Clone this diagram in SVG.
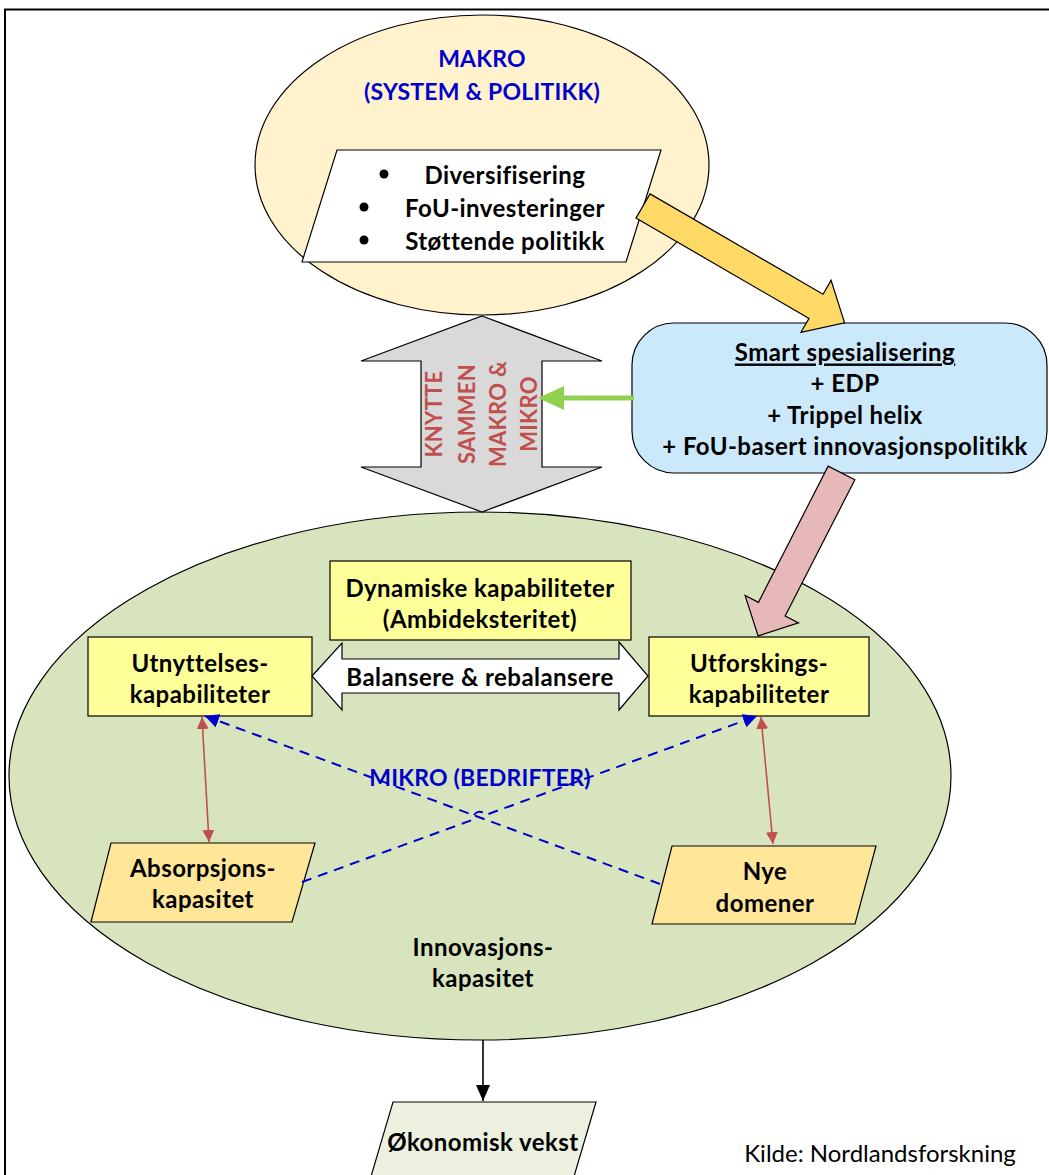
<svg xmlns="http://www.w3.org/2000/svg" width="1049" height="1175" viewBox="0 0 1049 1175">
<defs>
<style>
.t{font-family:Lato,"Liberation Sans",sans-serif;font-weight:bold;font-size:24px;letter-spacing:0.45px;fill:#000;text-anchor:middle;dominant-baseline:central}
.blue{fill:#0000CC;font-size:23px;letter-spacing:0.2px}
.red{fill:#C0504D;font-size:22px;letter-spacing:0.3px}
.sh{stroke:#000;stroke-width:1.2}
.dash{fill:none;stroke:#0000CC;stroke-width:2;stroke-dasharray:10 7}
.rl{stroke:#C0504D;stroke-width:1.6;fill:none}
</style>
<marker id="mr" viewBox="0 0 12 12" refX="12" refY="6" markerWidth="12" markerHeight="12" markerUnits="userSpaceOnUse" orient="auto-start-reverse"><path d="M0,0 L12,6 L0,12 Z" fill="#C0504D"/></marker>
<marker id="mb" viewBox="0 0 12 12" refX="12" refY="6" markerWidth="14" markerHeight="14" markerUnits="userSpaceOnUse" orient="auto"><path d="M0,0 L12,6 L0,12 Z" fill="#0000CC"/></marker>
<marker id="mk" viewBox="0 0 16 14" refX="16" refY="7" markerWidth="16" markerHeight="14" markerUnits="userSpaceOnUse" orient="auto"><path d="M0,0 L16,7 L0,14 Z" fill="#000"/></marker>
</defs>
<rect x="0" y="0" width="1049" height="1175" fill="#fff"/>
<rect x="5" y="9.5" width="1060" height="1180" fill="none" stroke="#000" stroke-width="2"/>

<g id="makro">
<ellipse cx="482" cy="165" rx="227" ry="150" fill="#FFF2CC" class="sh"/>
<text class="t blue" x="482" y="58">MAKRO</text>
<text class="t blue" x="482" y="91">(SYSTEM &amp; POLITIKK)</text>
</g>
<g id="makro-list">
<polygon points="337,150 661,150 626,262 302,262" fill="#fff" class="sh"/>
<circle cx="384" cy="174" r="4.5"/><circle cx="364" cy="207" r="4.5"/><circle cx="364" cy="240" r="4.5"/>
<text class="t" x="505" y="174">Diversifisering</text>
<text class="t" x="505" y="207">FoU-investeringer</text>
<text class="t" x="505" y="240">Støttende politikk</text>
</g>

<g id="mikro">
<ellipse cx="480" cy="776" rx="471" ry="264" fill="#D7E4BD" class="sh"/>
<text class="t blue" x="480" y="777">MIKRO (BEDRIFTER)</text>
<text class="t" x="483" y="946">Innovasjons-</text>
<text class="t" x="483" y="977">kapasitet</text>
</g>

<g id="knytte">
<polygon points="482,316 602,361 542,361 542,467 602,467 482,512 361,467 421,467 421,361 361,361" fill="#D9D9D9" class="sh"/>
<g transform="translate(482,414) rotate(-90)">
<text class="t red" x="0" y="-49">KNYTTE</text>
<text class="t red" x="0" y="-16">SAMMEN</text>
<text class="t red" x="0" y="15">MAKRO &amp;</text>
<text class="t red" x="0" y="46">MIKRO</text>
</g>
</g>

<g id="smart">
<rect x="632" y="323" width="415" height="150" rx="42" ry="42" fill="#CCE9FB" class="sh"/>
<text class="t" x="845" y="351" text-decoration="underline">Smart spesialisering</text>
<text class="t" x="845" y="382">+ EDP</text>
<text class="t" x="845" y="414">+ Trippel helix</text>
<text class="t" x="845" y="445">+ FoU-basert innovasjonspolitikk</text>
</g>

<g id="dynamiske">
<rect x="330" y="561" width="301" height="79" fill="#FFFF99" class="sh"/>
<text class="t" x="480" y="587">Dynamiske kapabiliteter</text>
<text class="t" x="480" y="618">(Ambideksteritet)</text>
</g>
<g id="utnyttelse">
<rect x="88" y="637" width="224" height="79" fill="#FFFF99" class="sh"/>
<text class="t" x="200" y="662">Utnyttelses-</text>
<text class="t" x="200" y="693">kapabiliteter</text>
</g>
<g id="utforsking">
<rect x="649" y="637" width="220" height="79" fill="#FFFF99" class="sh"/>
<text class="t" x="759" y="662">Utforskings-</text>
<text class="t" x="759" y="693">kapabiliteter</text>
</g>
<g id="absorpsjon">
<polygon points="111,843 315,843 292,922 91,922" fill="#FFE699" class="sh"/>
<text class="t" x="203" y="867">Absorpsjons-</text>
<text class="t" x="203" y="898">kapasitet</text>
</g>
<g id="nye">
<polygon points="672,846 876,846 855,924 652,924" fill="#FFE699" class="sh"/>
<text class="t" x="765" y="870">Nye</text>
<text class="t" x="765" y="902">domener</text>
</g>
<g id="vekst">
<polygon points="393,1102 596,1102 570,1190 367,1190" fill="#EBF1DE" class="sh"/>
<text class="t" x="483" y="1141">Økonomisk vekst</text>
</g>
<g id="kilde">
<text x="880" y="1152" style="font-family:Lato,'Liberation Sans',sans-serif;font-size:24px;text-anchor:middle;dominant-baseline:central">Kilde: Nordlandsforskning</text>
</g>

<g id="connectors">
<polygon transform="translate(643,206) rotate(30.1)" points="0,-14 200,-14 200,-30 233,0 200,30 200,14 0,14" fill="#FFD966" class="sh"/>
<polygon transform="translate(841.5,473) rotate(117.1)" points="0,-15 153,-15 153,-30 183,0 153,30 153,15 0,15" fill="#E6B9B8" class="sh"/>
<path d="M634,398 L562,398" stroke="#92D050" stroke-width="5" fill="none"/>
<polygon points="538,398 564,386 564,410" fill="#92D050"/>
<g id="balansere">
<polygon points="312,676 342,643 342,659 619,659 619,642 648,676 619,710 619,693 342,693 342,710" fill="#fff" class="sh"/>
<text class="t" x="480" y="676">Balansere &amp; rebalansere</text>
</g>
<line x1="209" y1="842" x2="202" y2="717" class="rl" marker-start="url(#mr)" marker-end="url(#mr)"/>
<line x1="773" y1="844" x2="761" y2="717" class="rl" marker-start="url(#mr)" marker-end="url(#mr)"/>
<path d="M660,884 L205,716" class="dash" marker-end="url(#mb)"/>
<path d="M302,882 L473.8,819.4 A6,6 0 0 1 485,815.2 L757,716" class="dash" marker-end="url(#mb)"/>
<line x1="483" y1="1040" x2="483" y2="1101" stroke="#000" stroke-width="1.6" marker-end="url(#mk)"/>
</g>
</svg>
